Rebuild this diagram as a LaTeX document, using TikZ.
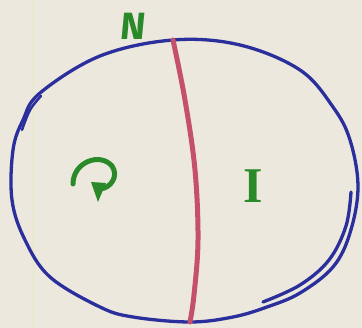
\documentclass[tikz,border=0pt]{standalone}
\usepackage{fontspec}
\setmainfont{Fira Sans}
\newfontfamily\serifI{Liberation Serif}
\usetikzlibrary{arrows.meta}
\definecolor{paper}{HTML}{ECE8DE}
\definecolor{margin}{HTML}{E3E9C4}
\definecolor{penblue}{HTML}{2B2F9C}
\definecolor{penred}{HTML}{C5506E}
\definecolor{pengreen}{HTML}{2A8A2A}
\tikzset{
  bluepen/.style={draw=penblue, line width=3.3pt, line cap=round, line join=round},
  redpen/.style={draw=penred, line width=5pt, line cap=round},
  greenpen/.style={draw=pengreen, line width=5pt, line cap=round},
  lettr/.style={text=pengreen, font=\bfseries, inner sep=0pt}
}
\begin{document}
\begin{tikzpicture}[x=1pt, y=-1pt]
  \fill[paper] (0,0) rectangle (362,328);
  \useasboundingbox (0,0) rectangle (362,328);
  \draw[margin, line width=1pt] (33,0) -- (33,328);
  % globe outline
  \coordinate (top) at (173,40);
  \coordinate (bot) at (190,322);
  \draw[bluepen] plot[smooth cycle, tension=0.6] coordinates {
    (173,40) (240,45) (300,70) (333,107) (350,140) (358,187)
    (350,233) (333,267) (300,293) (267,307) (233,317) (190,322)
    (133,317) (100,307) (50,277) (25,240) (12,200) (13,150)
    (23,120) (40,93) (100,56)};
  % sketchy extra strokes
  \draw[bluepen] plot[smooth, tension=0.6] coordinates {(351,192) (346,226) (329,260) (300,285) (263,302)};
  \draw[bluepen, line width=2.5pt] plot[smooth, tension=0.6] coordinates {(41,96) (30,110) (22,130)};
  % axis
  \draw[redpen] plot[smooth, tension=0.6] coordinates {(top) (185,100) (195,170) (198,240) (194,295) (bot)};
  % labels
  \node[lettr, font=\bfseries\fontsize{38}{38}\selectfont, xslant=0.1] (N) at (133,26) {N};
  \node[lettr, font=\serifI\bfseries\fontsize{50}{50}\selectfont] (I) at (253,186) {I};
  % rotation symbol
  \draw[greenpen] (73,184) .. controls (73,162) and (100,152) .. (112,166)
        .. controls (119,176) and (111,188) .. (100,189);
  \fill[pengreen] (91,182) -- (106,183) -- (98,202) -- cycle;
\end{tikzpicture}
\end{document}
